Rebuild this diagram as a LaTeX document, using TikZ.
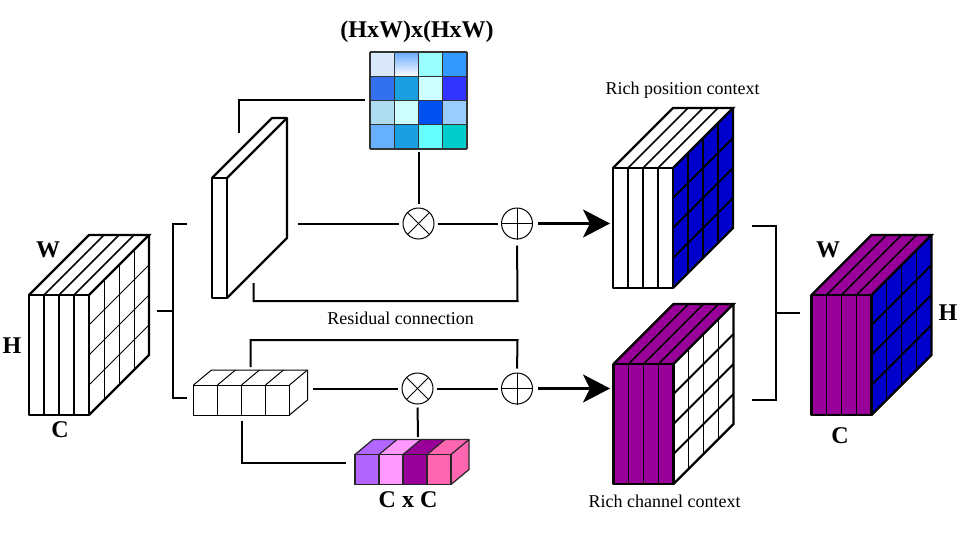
\documentclass[tikz,border=0pt]{standalone}
\usepackage{fontspec}
\setmainfont{Liberation Serif}
\usetikzlibrary{arrows.meta, positioning, calc}

\definecolor{ctxblue}{HTML}{0000CC}
\definecolor{ctxpurple}{HTML}{990099}
\definecolor{ccviolet}{HTML}{B266FF}
\definecolor{ccpink}{HTML}{FF99FF}
\definecolor{cchot}{HTML}{FF66B2}
\definecolor{cellsky}{HTML}{66AAFF}

% #1 corner of front face, #2 top fill, #3 front fill, #4 side fill, #5 grid width
\newcommand{\tensorblock}[5]{
  \begin{scope}[shift={(#1)}]
    \fill[#3] (0,0) rectangle (60,120);
    \fill[#2] (0,0) -- (60,-60) -- (120,-60) -- (60,0) -- cycle;
    \fill[#4] (60,0) -- (120,-60) -- (120,60) -- (60,120) -- cycle;
    \foreach \i in {1,2,3} {
      \draw[line width=#5] (60+15*\i,-15*\i) -- (60+15*\i,120-15*\i);
      \draw[line width=#5] (60,30*\i) -- (120,30*\i-60);
    }
    \foreach \i in {1,2,3} {
      \draw[line width=1.9pt] (15*\i,0) -- (15*\i,120);
      \draw[line width=1.7pt] (15*\i,0) -- (60+15*\i,-60);
    }
    \draw[line width=2.6pt, line join=round] (0,0) rectangle (60,120);
    \draw[line width=2.2pt] (0,0) -- (60,-60) -- (120,-60) -- (60,0);
    \draw[line width=2.2pt] (120,-60) -- (120,60) -- (60,120);
  \end{scope}
}

\begin{document}
\begin{tikzpicture}[
    x=1pt, y=-1pt,
    link/.style={line width=2pt, line join=miter},
    arrow/.style={line width=2.6pt, -{Stealth[length=27pt, width=28pt, inset=7pt]}},
    opnode/.style={draw, circle, line width=1pt, minimum size=31pt, inner sep=0pt},
    sign/.style={line width=1pt},
    dimlabel/.style={font=\fontsize{24}{24}\selectfont\bfseries, inner sep=0pt},
    caption/.style={font=\fontsize{18}{20}\selectfont, inner sep=0pt},
    cell/.style={draw=black!80, line width=1.3pt}
  ]
  \useasboundingbox (0,0) rectangle (963,549);

  % feature blocks
  \tensorblock{29,295}{white}{white}{white}{1pt}
  \tensorblock{613,168}{white}{white}{ctxblue}{1.9pt}
  \tensorblock{613.5,364}{ctxpurple}{ctxpurple}{white}{1.9pt}
  \tensorblock{811.5,295}{ctxpurple}{ctxpurple}{ctxblue}{1.9pt}

  % plane
  \draw[line width=2.2pt, line join=round] (212,178) rectangle (227,298);
  \draw[line width=2.2pt, line join=round] (212,178) -- (272,118) -- (287,118) -- (287,238) -- (227,298);
  \draw[line width=2.2pt] (227,178) -- (287,118);

  % position matrix
  \foreach \c [count=\i from 0] in {DBE8FB,99FFFF,3399FF,3370EE,1AA0E0,CCFFFF,3333FF,AEDCF0,CCFFFF,0050F0,99CCFF,66B0FF,1AA0E0,66FFFF,00CCCC} {
    \pgfmathtruncatemacro{\k}{\i>0 ? \i+1 : 0}
    \pgfmathtruncatemacro{\col}{mod(\k,4)}
    \pgfmathtruncatemacro{\row}{int(\k/4)}
    \definecolor{cellcol}{HTML}{\c}
    \fill[cellcol] (370+24.25*\col,52+24.25*\row) rectangle ++(24.25,24.25);
  }
  \shade[top color=cellsky, bottom color=white] (394.25,52) rectangle (418.5,76.25);
  \foreach \i in {0,...,4} {
    \draw[cell] (370+24.25*\i,52) -- (370+24.25*\i,149);
    \draw[cell] (370,52+24.25*\i) -- (467,52+24.25*\i);
  }

  % channel strip, plain
  \begin{scope}[line width=1pt]
    \draw (193.5,385) rectangle (289.5,415);
    \draw (193.5,385) -- (211.5,370) -- (307.5,370) -- (307.5,400) -- (289.5,415);
    \draw (289.5,385) -- (307.5,370);
    \foreach \i in {1,2,3} {
      \draw (193.5+24*\i,385) -- (193.5+24*\i,415);
      \draw (193.5+24*\i,385) -- (211.5+24*\i,370);
    }
  \end{scope}

  % channel strip, C x C
  \foreach \c [count=\i from 0] in {ccviolet,ccpink,ctxpurple,cchot} {
    \fill[\c] (355+24*\i,454.5) rectangle ++(24,30);
    \fill[\c] (355+24*\i,454.5) -- ++(18,-15) -- ++(24,0) -- ++(-18,15) -- cycle;
  }
  \fill[cchot] (451,454.5) -- (469,439.5) -- (469,469.5) -- (451,484.5) -- cycle;
  \begin{scope}[line width=1.2pt, black!85]
    \draw (355,454.5) rectangle (451,484.5);
    \draw (355,454.5) -- (373,439.5) -- (469,439.5) -- (469,469.5) -- (451,484.5);
    \draw (451,454.5) -- (469,439.5);
    \foreach \i in {1,2,3} {
      \draw (355+24*\i,454.5) -- (355+24*\i,484.5);
      \draw (355+24*\i,454.5) -- (373+24*\i,439.5);
    }
  \end{scope}

  % operators
  \node[opnode] (mulTop) at (418.5,223.5) {};
  \node[opnode] (addTop) at (517,223.5) {};
  \node[opnode] (mulBot) at (417.5,388.5) {};
  \node[opnode] (addBot) at (517,388.5) {};
  \foreach \n in {mulTop,mulBot} {
    \draw[sign] (\n.north west) -- (\n.south east);
    \draw[sign] (\n.north east) -- (\n.south west);
  }
  \foreach \n in {addTop,addBot} {
    \draw[sign] (\n.north) -- (\n.south);
    \draw[sign] (\n.west) -- (\n.east);
  }

  % free ends
  \coordinate (planeTop) at (238.5,133);
  \coordinate (matLeft) at (365,100);
  \coordinate (matBot) at (418.5,152);
  \coordinate (planeOut) at (298,223.5);
  \coordinate (planeRes) at (253.5,283);
  \coordinate (resCorner) at (517.5,301);
  \coordinate (stripOut) at (313,388.5);
  \coordinate (stripRes) at (250.5,367);
  \coordinate (stripCorner) at (517.5,340);
  \coordinate (stripBot) at (241.5,421);
  \coordinate (ccLeft) at (346,463);
  \coordinate (ccTop) at (418,437);
  \coordinate (arrTopA) at (538,223.5);
  \coordinate (arrTopB) at (610,223.5);
  \coordinate (arrBotA) at (538,388.5);
  \coordinate (arrBotB) at (610,388.5);
  \coordinate (lbrIn) at (157,311);
  \coordinate (lbrTop) at (187,223.5);
  \coordinate (lbrBot) at (187,397.5);
  \coordinate (lbrMid) at (172.5,311);
  \coordinate (rbrTop) at (752,225.5);
  \coordinate (rbrBot) at (752,400);
  \coordinate (rbrMid) at (776,312.5);
  \coordinate (rbrOut) at (800,312.5);

  % connectors
  \draw[link] (planeTop) |- (matLeft);
  \draw[link, shorten >=4pt] (matBot) -- (mulTop.north);
  \draw[link, shorten >=4pt] (planeOut) -- (mulTop.west);
  \draw[link, shorten <=3pt, shorten >=3pt] (mulTop.east) -- (addTop.west);
  \draw[link, shorten >=6pt] (planeRes) |- (resCorner) -- (addTop.south);
  \draw[link, shorten >=4pt] (stripRes) |- (stripCorner) -- (addBot.north);
  \draw[link, shorten >=4pt] (stripOut) -- (mulBot.west);
  \draw[link, shorten <=3pt, shorten >=3pt] (mulBot.east) -- (addBot.west);
  \draw[link, shorten <=3pt] (mulBot.south) -- (ccTop);
  \draw[link] (stripBot) |- (ccLeft);
  \draw[arrow] (arrTopA) -- (arrTopB);
  \draw[arrow] (arrBotA) -- (arrBotB);
  \draw[link] (lbrTop) -| (lbrMid) |- (lbrBot);
  \draw[link] (lbrIn) -- (lbrMid);
  \draw[link] (rbrTop) -| (rbrMid) |- (rbrBot);
  \draw[link] (rbrMid) -- (rbrOut);

  % labels
  \node[dimlabel] (matLabel) at (417,32) {(HxW)x(HxW)};
  \node[dimlabel] (ccLabel) at (408,499.5) {C x C};
  \node[caption] (posLabel) at (682.5,90.5) {Rich position context};
  \node[caption] (chanLabel) at (664.5,501) {Rich channel context};
  \node[caption] (resLabel) at (400.5,318) {Residual connection};
  \node[dimlabel] (inW) at (48,250) {W};
  \node[dimlabel] (inH) at (12,346) {H};
  \node[dimlabel] (inC) at (60,430) {C};
  \node[dimlabel] (outW) at (828,250) {W};
  \node[dimlabel] (outH) at (948,313) {H};
  \node[dimlabel] (outC) at (840,436) {C};
\end{tikzpicture}
\end{document}
